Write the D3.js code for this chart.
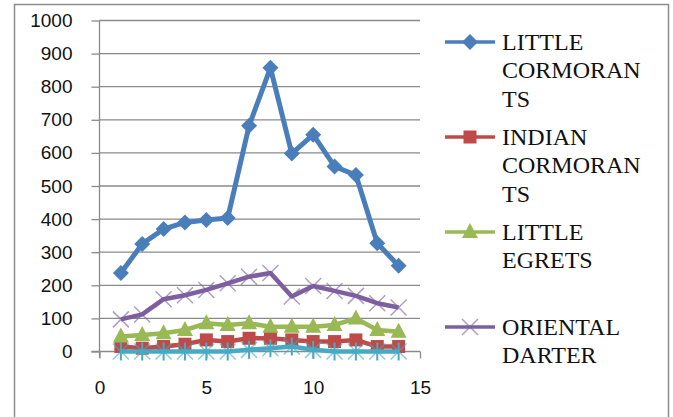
<!DOCTYPE html>
<html>
<head>
<meta charset="utf-8">
<script src="https://cdn.jsdelivr.net/npm/d3@7"></script>
<style>
  html, body { margin: 0; padding: 0; background: #fff; }
  svg { display: block; }
</style>
</head>
<body>
<svg id="chart"></svg>
<script>
//  data
const x_values = [1, 2, 3, 4, 5, 6, 7, 8, 9, 10, 11, 12, 13, 14];
const little_cormorants = [237, 325, 370, 390, 397, 403, 682, 857, 598, 655, 559, 533, 327, 259];
const indian_cormorants = [15, 10, 15, 22, 35, 30, 40, 40, 35, 30, 30, 35, 15, 15];
const little_egrets = [45, 50, 55, 65, 85, 80, 85, 75, 75, 75, 80, 100, 65, 60];
const oriental_darter = [97, 112, 158, 170, 186, 206, 226, 237, 166, 198, 183, 168, 146, 133];
const fifth_series = [0, 0, 0, 0, 0, 0, 5, 10, 15, 5, 0, 0, 0, 0];
const y_ticks = [0, 100, 200, 300, 400, 500, 600, 700, 800, 900, 1000];
const x_ticks = [0, 5, 10, 15];
const legend_labels = [
  ["LITTLE", "CORMORAN", "TS"],
  ["INDIAN", "CORMORAN", "TS"],
  ["LITTLE", "EGRETS"],
  ["ORIENTAL", "DARTER"]
];

const series = [
  {values: little_cormorants, color: "#4A7EBB", marker: "diamond"},
  {values: indian_cormorants, color: "#BE4B48", marker: "square"},
  {values: little_egrets, color: "#98B954", marker: "triangle"},
  {values: oriental_darter, color: "#7D5FA0", marker: "cross"},
  {values: fifth_series, color: "#46AAC5", marker: "star"}
];

const axis_font = '"Liberation Sans"'

//  draw one marker at (cx, cy)
function draw_marker(g, type, cx, cy, color) {
  if (type == "diamond") {
    g.append("path")
     .attr("d", `M${cx},${cy - 8}L${cx + 8},${cy}L${cx},${cy + 8}L${cx - 8},${cy}Z`)
     .attr("fill", color);
  } else if (type == "square") {
    g.append("rect")
     .attr("x", cx - 6.5).attr("y", cy - 6.5)
     .attr("width", 13).attr("height", 13)
     .attr("fill", color);
  } else if (type == "triangle") {
    g.append("path")
     .attr("d", `M${cx},${cy - 9}L${cx + 8},${cy + 6}L${cx - 8},${cy + 6}Z`)
     .attr("fill", color);
  } else if (type == "cross") {
    g.append("path")
     .attr("d", `M${cx - 8},${cy - 8}L${cx + 8},${cy + 8}M${cx + 8},${cy - 8}L${cx - 8},${cy + 8}`)
     .attr("stroke", color).attr("stroke-width", 1.5).attr("opacity", 0.6);
  } else if (type == "star") {
    g.append("path")
     .attr("d", `M${cx - 8},${cy - 8}L${cx + 8},${cy + 8}M${cx + 8},${cy - 8}L${cx - 8},${cy + 8}`)
     .attr("stroke", color).attr("stroke-width", 1.5).attr("opacity", 0.6);
    g.append("path")
     .attr("d", `M${cx},${cy - 9}L${cx},${cy + 9}`)
     .attr("stroke", color).attr("stroke-width", 2);
  }
}

function draw_chart() {
  const w = 673
  const h = 417
  const svg = d3.select("#chart").attr("width", w).attr("height", h)

  const x = d3.scaleLinear().domain([0, 15]).range([99.5, 420])
  const y = d3.scaleLinear().domain([0, 1000]).range([351.5, 20.5])

  //  outer frame
  svg.append("rect")
     .attr("x", 14.5).attr("y", 4.5)
     .attr("width", 654).attr("height", 420)
     .attr("fill", "none").attr("stroke", "#8c8c8c").attr("stroke-width", 1.5)

  //  gridlines
  svg.selectAll("line.grid")
     .data(y_ticks.slice(1)).enter().append("line")
     .attr("class", "grid")
     .attr("x1", x(0)).attr("x2", x(15))
     .attr("y1", d => y(d)).attr("y2", d => y(d))
     .attr("stroke", "#8a8a8a").attr("stroke-width", 1.3)

  //  y axis
  const yAxis = svg.append("g").attr("transform", `translate(${x(0)},0)`)
    .call(d3.axisLeft(y).tickValues(y_ticks).tickFormat(d3.format("d")).tickSize(8).tickPadding(19))
  yAxis.select(".domain").attr("d", `M0,${y(1000)}V${y(0) + 6}`)
  //  x axis
  const xAxis = svg.append("g").attr("transform", `translate(0,${y(0)})`)
    .call(d3.axisBottom(x).tickValues(x_ticks).tickFormat(d3.format("d")).tickSize(7))
  xAxis.select(".domain").attr("d", `M${x(0) - 8},0H${x(15)}`)

  svg.selectAll(".domain, .tick line").attr("stroke", "#8a8a8a").attr("stroke-width", 1.3)
  yAxis.attr("font-family", axis_font).attr("font-size", 19)
  xAxis.attr("font-family", axis_font).attr("font-size", 19)
  svg.selectAll(".tick text").attr("fill", "#111")
  xAxis.selectAll(".tick text").attr("dy", "0.35em").attr("y", 36)

  const line = d3.line().x((d, i) => x(x_values[i])).y(d => y(d))

  //  series
  series.forEach(s => {
    const g = svg.append("g")
    g.append("path")
     .datum(s.values)
     .attr("d", line)
     .attr("fill", "none")
     .attr("stroke", s.color)
     .attr("stroke-width", s.marker == "diamond" ? 5 : 4.5)
     .attr("stroke-linejoin", "round")
    s.values.forEach((v, i) => draw_marker(g, s.marker, x(x_values[i]), y(v), s.color))
  });

  //  legend (default page font is the serif one)
  const legend_y = [42, 137, 232, 327]
  legend_labels.forEach((lines, i) => {
    const g = svg.append("g")
    const s = series[i]
    g.append("line")
     .attr("x1", 445).attr("x2", 495)
     .attr("y1", legend_y[i]).attr("y2", legend_y[i])
     .attr("stroke", s.color).attr("stroke-width", 3.5)
    draw_marker(g, s.marker, 470, legend_y[i], s.color)
    lines.forEach((t, j) => {
      g.append("text")
       .attr("x", 502)
       .attr("y", legend_y[i] + j * 28.5)
       .attr("dy", "0.33em")
       .attr("font-size", 24)
       .attr("fill", "#111")
       .text(t)
    })
  });
}

draw_chart();
</script>
</body>
</html>
